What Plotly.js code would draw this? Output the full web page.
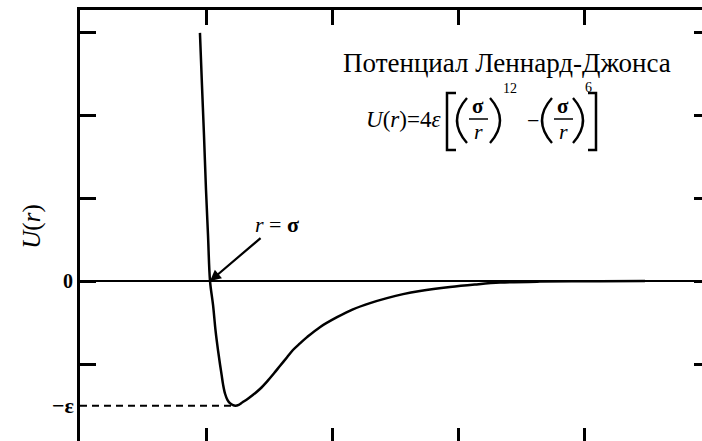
<!DOCTYPE html>
<html>
<head>
<meta charset="utf-8">
<script src="https://cdn.plot.ly/plotly-3.0.1.min.js"></script>
<style>
  html, body { margin: 0; padding: 0; overflow: hidden; background: #fff; }
  #chart { width: 730px; height: 460px; }
</style>
</head>
<body>
<div id="chart"></div>
<script>
// Lennard-Jones potential: r in units of sigma, U in axis units (epsilon = 1.5)
const rValues = [0.976, 0.984, 0.992, 1.000, 1.008, 1.016, 1.028, 1.038, 1.048, 1.056,
                 1.062, 1.068, 1.076, 1.085, 1.095, 1.105, 1.117, 1.130, 1.145, 1.165,
                 1.187, 1.214, 1.242, 1.270, 1.294, 1.321, 1.345, 1.373, 1.401, 1.452,
                 1.520, 1.583, 1.651, 1.718, 1.782, 1.849, 1.968, 2.067, 2.167, 2.325,
                 2.563, 2.742];
const uValues = [2.99, 2.36, 1.76, 1.10, 0.55, 0.00, -0.29, -0.60, -0.84, -1.01,
                 -1.13, -1.25, -1.36, -1.43, -1.47, -1.49, -1.50, -1.49, -1.46, -1.42,
                 -1.37, -1.30, -1.21, -1.11, -1.02, -0.92, -0.83, -0.75, -0.675, -0.555,
                 -0.435, -0.34, -0.265, -0.205, -0.157, -0.12, -0.072, -0.042, -0.018, -0.006,
                 -0.002, 0.0];

// depth of the well and where it sits
const epsilon = 1.5;
const rWell = 1.117;
const rSigma = 1.016;
const wellLineX = [0.5, rWell];
const wellLineY = [-epsilon, -epsilon];

// axis ticks
const xTicks = [1.0, 1.5, 2.0, 2.5];
const yTicks = [-1, 0, 1, 2, 3];
const yTickText = ['', '<b>0</b>', '', '', ''];

const xRange = [0.5, 3.0];
const yRange = [-1.95, 3.265];
const W = 730, H = 460;
const M = { l: 80, r: 20, t: 10, b: 17 };
const plotW = W - M.l - M.r, plotH = H - M.t - M.b;

// page pixel -> data coordinates (for text and pieces of the formula)
const X = px => xRange[0] + (px - M.l) / plotW * (xRange[1] - xRange[0]);
const Y = py => yRange[1] - (py - M.t) / plotH * (yRange[1] - yRange[0]);

const serif = 'Liberation Serif, Times New Roman, serif';
const ink = '#000';

function label(text, px, py, size, extra) {
  return Object.assign({
    xref: 'x', yref: 'y', x: X(px), y: Y(py), text: text, showarrow: false,
    xanchor: 'center', yanchor: 'middle',
    font: { family: serif, size: size, color: ink }
  }, extra || {});
}

const traces = [
  {
    x: rValues, y: uValues, type: 'scatter', mode: 'lines',
    line: { color: ink, width: 2.5, shape: 'spline', smoothing: 1 },
    hoverinfo: 'skip'
  },
  {
    x: wellLineX, y: wellLineY, type: 'scatter', mode: 'lines',
    line: { color: ink, width: 2, dash: '7px,5px' },
    hoverinfo: 'skip'
  }
];

const annotations = [
  label('Потенциал Леннард-Джонса', 507, 63, 27),
  label('<i>U</i>(<i>r</i>)=4<i>ε</i>', 443, 119, 23, { xanchor: 'right' }),
  label('<b>σ</b>', 478, 106, 21),
  label('<i>r</i>', 478, 131, 22),
  label('12', 510, 88, 14),
  label('−', 533, 120, 22),
  label('<b>σ</b>', 563, 106, 21),
  label('<i>r</i>', 563, 131, 22),
  label('6', 588, 87, 14),
  // −ε on the value axis
  { xref: 'paper', yref: 'y', x: 0, y: -epsilon, xanchor: 'right', yanchor: 'middle',
    xshift: -4, showarrow: false, text: '<b>−ε</b>',
    font: { family: serif, size: 22, color: ink } },
  // r = σ pointer
  { xref: 'x', yref: 'y', x: rSigma, y: 0, ax: 67, ay: -57, text: '<i>r</i> = <b>σ</b>',
    showarrow: true, arrowhead: 2, arrowsize: 1, arrowwidth: 2.2, arrowcolor: ink,
    standoff: 0, startstandoff: 0,
    font: { family: serif, size: 22, color: ink } }
];

function path(points) {
  return points.map((p, i) => (i ? 'L' : 'M') + X(p[0]) + ',' + Y(p[1])).join(' ');
}
function arc(p0, c, p1) {
  return 'M' + X(p0[0]) + ',' + Y(p0[1]) + ' Q' + X(c[0]) + ',' + Y(c[1]) +
         ' ' + X(p1[0]) + ',' + Y(p1[1]);
}
const stroke = w => ({ color: ink, width: w });

const shapes = [
  // square brackets
  { type: 'path', xref: 'x', yref: 'y', path: path([[456, 93], [447, 93], [447, 150], [456, 150]]), line: stroke(2.5) },
  { type: 'path', xref: 'x', yref: 'y', path: path([[588, 93], [596, 93], [596, 150], [588, 150]]), line: stroke(2.5) },
  // parentheses
  { type: 'path', xref: 'x', yref: 'y', path: arc([467, 98], [447, 120.5], [467, 143]), line: stroke(2.4) },
  { type: 'path', xref: 'x', yref: 'y', path: arc([490, 98], [510, 120.5], [490, 143]), line: stroke(2.4) },
  { type: 'path', xref: 'x', yref: 'y', path: arc([552, 98], [532, 120.5], [552, 143]), line: stroke(2.4) },
  { type: 'path', xref: 'x', yref: 'y', path: arc([573, 98], [593, 120.5], [573, 143]), line: stroke(2.4) },
  // fraction bars
  { type: 'line', xref: 'x', yref: 'y', x0: X(469), x1: X(488), y0: Y(119), y1: Y(119), line: stroke(1.5) },
  { type: 'line', xref: 'x', yref: 'y', x0: X(554), x1: X(573), y0: Y(119), y1: Y(119), line: stroke(1.5) }
];

const axisCommon = {
  showline: true, linewidth: 3, linecolor: ink, mirror: 'ticks',
  ticks: 'inside', tickwidth: 3, tickcolor: ink, showgrid: false, fixedrange: true
};

const layout = {
  width: W, height: H, margin: M,
  paper_bgcolor: '#fff', plot_bgcolor: '#fff', showlegend: false,
  xaxis: Object.assign({}, axisCommon, {
    range: xRange, tickvals: xTicks, ticktext: xTicks.map(() => ''), ticklen: 15,
    zeroline: false
  }),
  yaxis: Object.assign({}, axisCommon, {
    range: yRange, tickvals: yTicks, ticktext: yTickText, ticklen: 16,
    zeroline: true, zerolinewidth: 2.5, zerolinecolor: ink,
    tickfont: { family: serif, size: 20, color: ink },
    title: { text: '<i>U</i>(<i>r</i>)', standoff: 16,
             font: { family: serif, size: 25, color: ink } }
  }),
  annotations: annotations,
  shapes: shapes
};

Plotly.newPlot('chart', traces, layout, { staticPlot: true, displayModeBar: false });
</script>
</body>
</html>
